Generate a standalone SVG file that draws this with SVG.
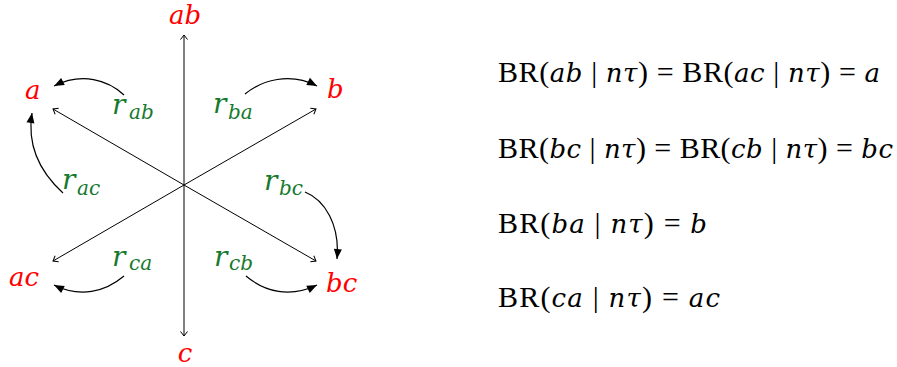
<svg xmlns="http://www.w3.org/2000/svg" width="897" height="367" viewBox="0 0 897 367">
<style>
.node{font-family:"DejaVu Serif",serif;font-style:italic;fill:#ff0000;font-size:26px}
.r{font-family:"DejaVu Serif",serif;font-style:italic;fill:#157a2e;font-size:28px}
.sub{font-size:20px}
.ax{stroke:#000;stroke-width:1;fill:none;marker-end:url(#open)}
.cv{stroke:#000;stroke-width:1.2;fill:none;marker-end:url(#solid)}
.eq{font-family:"Liberation Serif","Times New Roman",serif;font-size:30px;fill:#000}
.i{font-family:"DejaVu Serif",serif;font-style:italic;font-size:26px}
</style>
<defs>
<marker id="open" markerUnits="userSpaceOnUse" markerWidth="12" markerHeight="12" refX="6" refY="6" orient="auto" viewBox="0 0 12 12">
<path d="M1.5,2.5 L6,6 L1.5,9.5" fill="none" stroke="#000" stroke-width="1"/>
</marker>
<marker id="solid" markerUnits="userSpaceOnUse" markerWidth="14" markerHeight="14" refX="12" refY="7" orient="auto" viewBox="0 0 14 14">
<path d="M2,3 L12,7 L2,11 Z" fill="#000"/>
</marker>
</defs>
<g id="connectors">
<line class="ax" x1="184" y1="185" x2="184" y2="35"/>
<line class="ax" x1="184" y1="185" x2="184" y2="336"/>
<line class="ax" x1="184" y1="185" x2="53" y2="109"/>
<line class="ax" x1="184" y1="185" x2="316" y2="109"/>
<line class="ax" x1="184" y1="185" x2="53" y2="261"/>
<line class="ax" x1="184" y1="185" x2="316" y2="261"/>
<path class="cv" d="M124,95 C108,80 82,72 54,86"/>
<path class="cv" d="M245,94 C262,80 290,72 317,86"/>
<path class="cv" d="M63,193 C40,172 27,145 32,113"/>
<path class="cv" d="M305,192 C325,200 340,225 337,259"/>
<path class="cv" d="M124,276 C105,292 80,298 54,285"/>
<path class="cv" d="M246,276 C265,292 290,298 317,285"/>
</g>
<g id="node-ab"><text class="node" x="185" y="24" text-anchor="middle">ab</text></g>
<g id="node-a"><text class="node" x="25" y="99">a</text></g>
<g id="node-b"><text class="node" x="327" y="98">b</text></g>
<g id="node-ac"><text class="node" x="9" y="286">ac</text></g>
<g id="node-bc"><text class="node" x="326" y="292">bc</text></g>
<g id="node-c"><text class="node" x="185" y="362" text-anchor="middle">c</text></g>
<g id="label-rab"><text class="r" x="112" y="114">r<tspan class="sub" x="129" y="119">ab</tspan></text></g>
<g id="label-rba"><text class="r" x="213" y="113">r<tspan class="sub" x="228" y="119">ba</tspan></text></g>
<g id="label-rac"><text class="r" x="62" y="189">r<tspan class="sub" x="77" y="195">ac</tspan></text></g>
<g id="label-rbc"><text class="r" x="264" y="190">r<tspan class="sub" x="279" y="195">bc</tspan></text></g>
<g id="label-rca"><text class="r" x="112" y="266">r<tspan class="sub" x="129" y="270">ca</tspan></text></g>
<g id="label-rcb"><text class="r" x="214" y="266">r<tspan class="sub" x="229" y="270">cb</tspan></text></g>
<g id="equations">
<text class="eq" x="498" y="82" textLength="382" lengthAdjust="spacing">BR(<tspan class="i">ab</tspan> | <tspan class="i">nτ</tspan>) = BR(<tspan class="i">ac</tspan> | <tspan class="i">nτ</tspan>) = <tspan class="i">a</tspan></text>
<text class="eq" x="498" y="158" textLength="395" lengthAdjust="spacing">BR(<tspan class="i">bc</tspan> | <tspan class="i">nτ</tspan>) = BR(<tspan class="i">cb</tspan> | <tspan class="i">nτ</tspan>) = <tspan class="i">bc</tspan></text>
<text class="eq" x="498" y="233" textLength="209" lengthAdjust="spacing">BR(<tspan class="i">ba</tspan> | <tspan class="i">nτ</tspan>) = <tspan class="i">b</tspan></text>
<text class="eq" x="498" y="307" textLength="222" lengthAdjust="spacing">BR(<tspan class="i">ca</tspan> | <tspan class="i">nτ</tspan>) = <tspan class="i">ac</tspan></text>
</g>
</svg>
